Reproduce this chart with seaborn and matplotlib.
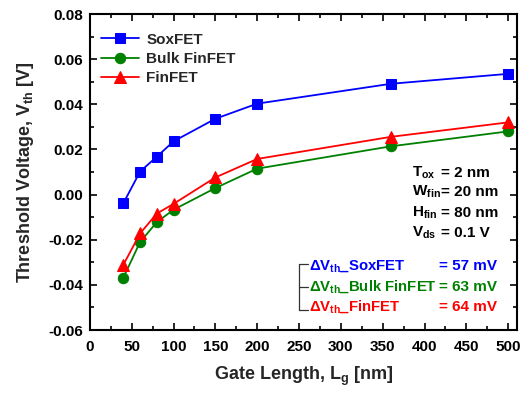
import matplotlib
matplotlib.use("Agg")
import matplotlib.pyplot as plt
import seaborn as sns
import pandas as pd
from matplotlib.ticker import MultipleLocator

gate_length = [40, 60, 80, 100, 150, 200, 360, 500]
vth_soxfet = [-0.0038, 0.0102, 0.0168, 0.0236, 0.0336, 0.0403, 0.0491, 0.0535]
vth_bulk = [-0.0368, -0.0210, -0.0122, -0.0067, 0.0029, 0.0115, 0.0214, 0.0280]
vth_finfet = [-0.0311, -0.0172, -0.0084, -0.0041, 0.0076, 0.0158, 0.0256, 0.0320]
series_names = ["SoxFET", "Bulk FinFET", "FinFET"]
series_colors = ["#0000FF", "#008000", "#FF0000"]
series_markers = ["s", "o", "^"]

param_labels = [r"T$_{\mathregular{ox}}$", r"W$_{\mathregular{fin}}$",
                r"H$_{\mathregular{fin}}$", r"V$_{\mathregular{ds}}$"]
param_values = ["= 2 nm", "= 20 nm", "= 80 nm", "= 0.1 V"]
delta_labels = [r"$\Delta$V$_{\mathregular{th}}$_SoxFET",
                r"$\Delta$V$_{\mathregular{th}}$_Bulk FinFET",
                r"$\Delta$V$_{\mathregular{th}}$_FinFET"]
delta_values = ["= 57 mV", "= 63 mV", "= 64 mV"]

sns.set_theme(style="ticks")
plt.rcParams["font.family"] = ["Liberation Sans", "DejaVu Sans"]
plt.rcParams["font.weight"] = "bold"
plt.rcParams["mathtext.fontset"] = "custom"
plt.rcParams["mathtext.rm"] = "Liberation Sans:bold"
plt.rcParams["mathtext.bf"] = "Liberation Sans:bold"
plt.rcParams["mathtext.it"] = "Liberation Sans:bold"
plt.rcParams["mathtext.default"] = "regular"

fig = plt.figure(figsize=(5.32, 3.94), dpi=100)
ax = fig.add_axes([0.169, 0.1624, 0.802, 0.802])

for name, vals, c, m in zip(series_names, [vth_soxfet, vth_bulk, vth_finfet],
                            series_colors, series_markers):
    df = pd.DataFrame({"Lg": gate_length, "Vth": vals})
    sns.lineplot(data=df, x="Lg", y="Vth", ax=ax, color=c, marker=m,
                 markersize=7.5 if m != "^" else 8.5, markeredgecolor=c,
                 linewidth=1.3, label=name)

ax.set_xlim(0, 510)
ax.set_ylim(-0.06, 0.08)
ax.xaxis.set_major_locator(MultipleLocator(50))
ax.xaxis.set_minor_locator(MultipleLocator(25))
ax.yaxis.set_major_locator(MultipleLocator(0.02))
ax.yaxis.set_minor_locator(MultipleLocator(0.01))
ax.yaxis.set_major_formatter(matplotlib.ticker.FormatStrFormatter("%.2f"))
ax.tick_params(which="both", direction="in", top=True, right=True,
               labelsize=11, width=1.2, colors="black")
ax.tick_params(which="major", length=5)
ax.tick_params(which="minor", length=3)
ax.tick_params(axis="x", which="major", pad=7)
ax.tick_params(axis="y", which="major", pad=5)
for lbl in ax.get_xticklabels() + ax.get_yticklabels():
    lbl.set_fontweight("bold")
for sp in ax.spines.values():
    sp.set_linewidth(1.5)
    sp.set_color("black")

ax.set_xlabel(r"Gate Length, L$_{\mathregular{g}}$ [nm]", fontsize=13,
              fontweight="bold", labelpad=8)
ax.set_ylabel(r"Threshold Voltage, V$_{\mathregular{th}}$ [V]", fontsize=13,
              fontweight="bold", labelpad=9)

leg = ax.legend(loc="upper left", frameon=False,
                prop={"family": ["Liberation Sans"], "weight": "bold", "size": 11},
                handlelength=2.5, handletextpad=0.5, labelspacing=0.35,
                borderaxespad=0.3, bbox_to_anchor=(0.0, 0.975))

param_y = [0.485, 0.424, 0.359, 0.295]
for lab, val, y in zip(param_labels, param_values, param_y):
    ax.text(0.754, y, lab, transform=ax.transAxes, fontsize=11,
            fontweight="bold", va="baseline", ha="left", color="black")
    ax.text(0.822, y, val, transform=ax.transAxes, fontsize=11,
            fontweight="bold", va="baseline", ha="left", color="black")

delta_y = [0.190, 0.125, 0.060]
for lab, val, y, c in zip(delta_labels, delta_values, delta_y, series_colors):
    ax.text(0.513, y, lab, transform=ax.transAxes, fontsize=10.7,
            fontweight="bold", va="baseline", ha="left", color=c)
    ax.text(0.818, y, val, transform=ax.transAxes, fontsize=11,
            fontweight="bold", va="baseline", ha="left", color=c)

# bracket
bx0, bx1 = 0.4905, 0.511
by = [0.209, 0.136, 0.0633]
ax.plot([bx0, bx0], [by[0], by[-1]], transform=ax.transAxes, color="#333333", lw=0.9)
for yy in by:
    ax.plot([bx0, bx1], [yy, yy], transform=ax.transAxes, color="#333333", lw=0.9)

fig.savefig("out.png", dpi=100)
